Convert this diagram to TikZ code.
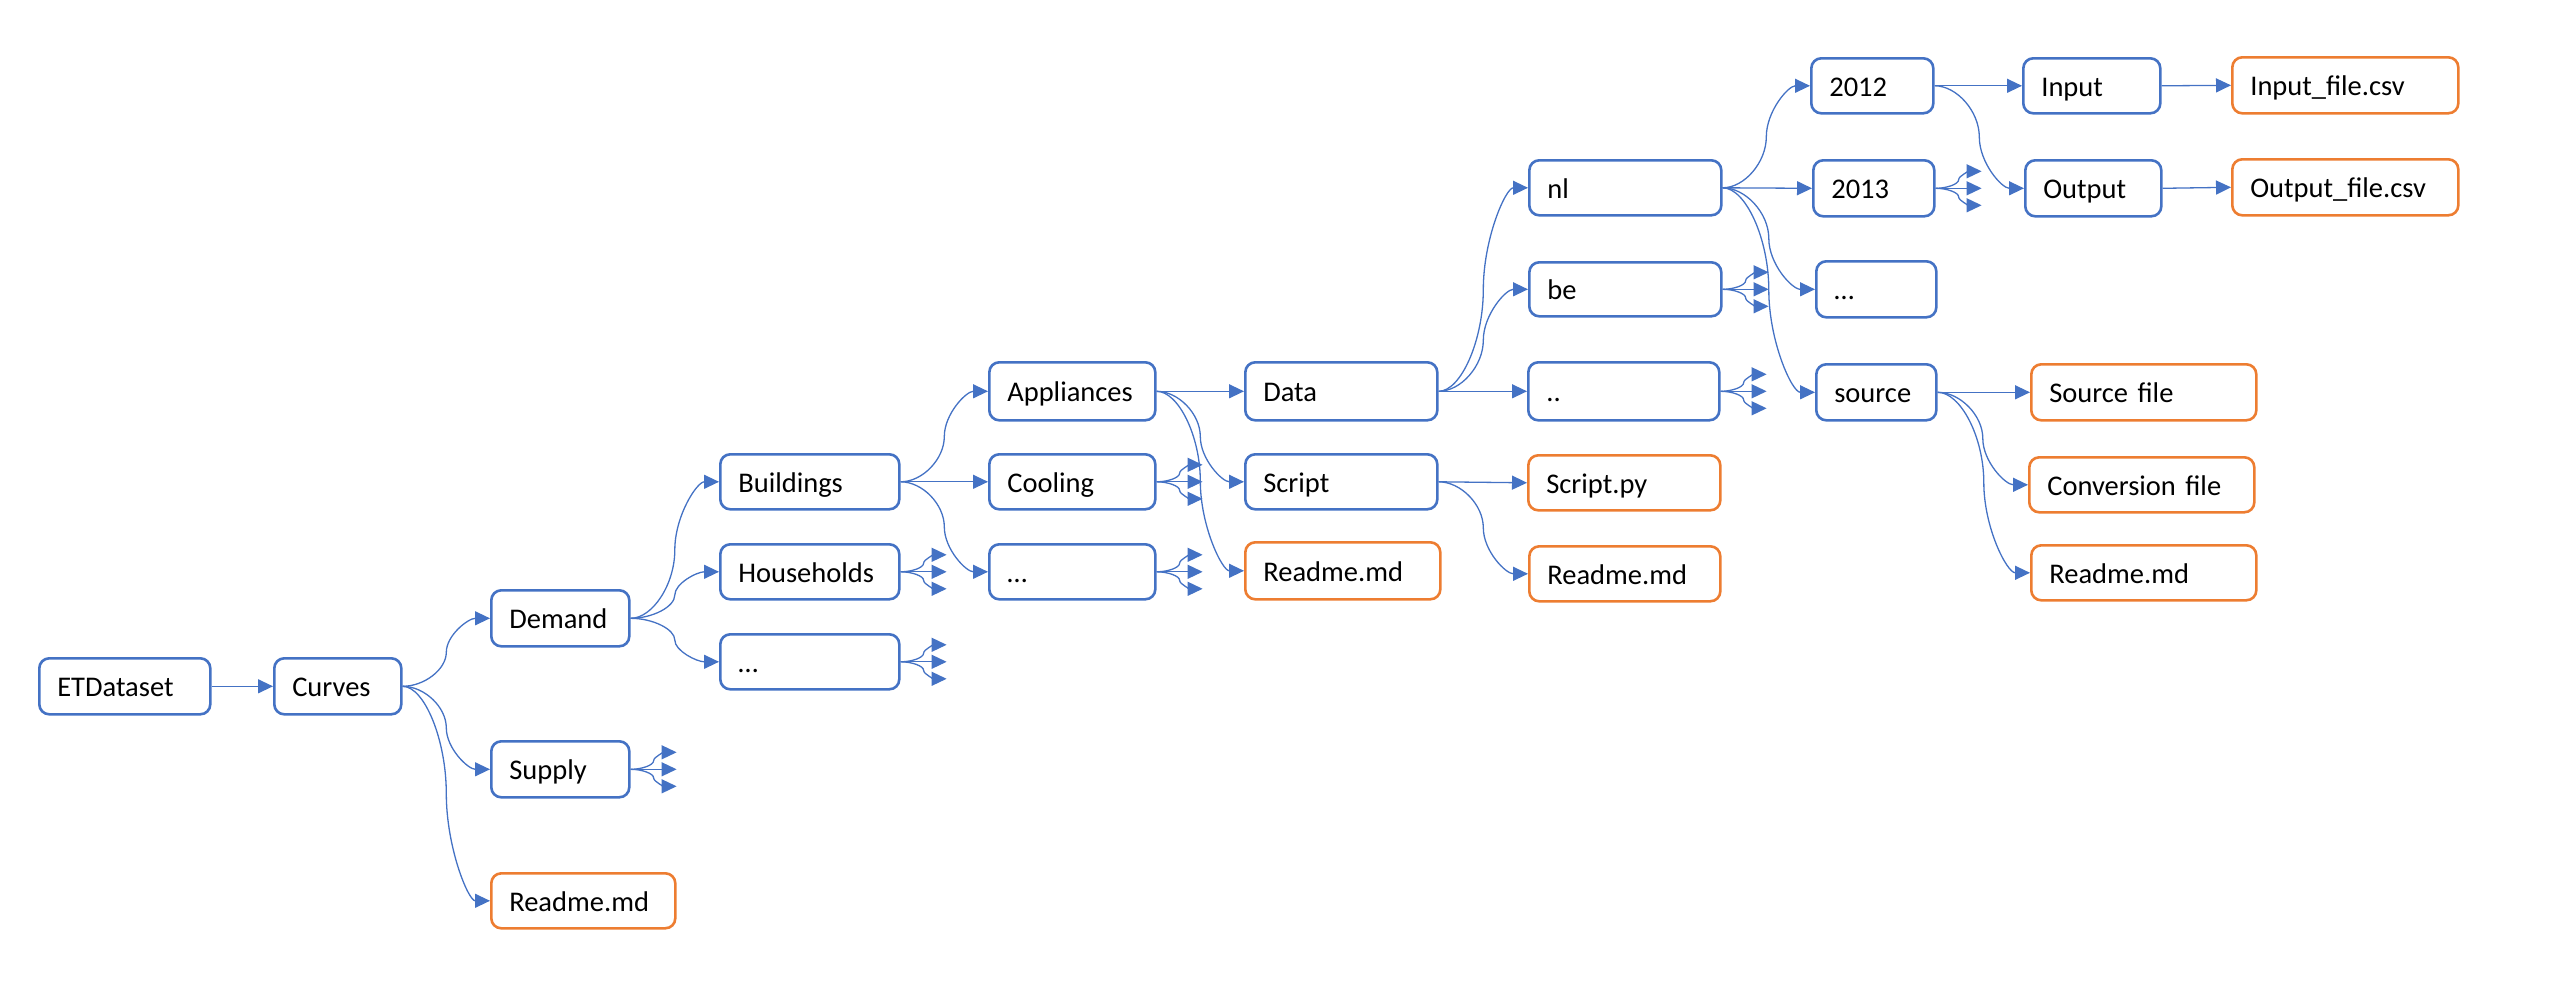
\documentclass[tikz,border=0pt]{standalone}
\usepackage{fontspec}
\setmainfont{Carlito}
\usetikzlibrary{arrows.meta,calc}
\definecolor{ublue}{HTML}{4472C4}
\definecolor{uorange}{HTML}{ED7D31}
\tikzset{
  boxbase/.style={rectangle, rounded corners=10pt, line width=2.6pt, anchor=north west,
    inner xsep=18pt, inner ysep=0pt, text height=21pt, text depth=0pt, align=left,
    font=\fontsize{28.5pt}{34pt}\selectfont},
  bluebox/.style={boxbase, draw=ublue},
  filebox/.style={boxbase, draw=uorange},
  conn/.style={draw=ublue, line width=1.3pt, -{Triangle[length=15pt,width=14pt]}},
  curv/.style={to path={let \p1=(\tikztostart), \p2=(\tikztotarget),
      \n1={(\x1+\x2)/2}, \n2={(\y1+\y2)/2}, \n3={\y1+(\y2-\y1)/4}, \n4={\y1+3*(\y2-\y1)/4},
      \n5={(\x1+\n1)/2}, \n6={(\n1+\x2)/2} in
      .. controls (\n5,\y1) and (\n1,\n3) .. (\n1,\n2)
      .. controls (\n1,\n4) and (\n6,\y2) .. (\tikztotarget)}}
}
\newcommand\bx[7][bluebox]{%
  \pgfmathsetmacro\bw{#5-#3-36}%
  \pgfmathsetmacro\bh{#6-#4}%
  \node[#1, text width=\bw pt, minimum height=\bh pt] (#2) at (#3,-#4) {#7};}
\newcommand\fanout[1]{%
  \path (#1.east) ++(46,17) coordinate (#1-fa);
  \path (#1.east) ++(46,0) coordinate (#1-fb);
  \path (#1.east) ++(46,-17) coordinate (#1-fc);
  \draw[conn] (#1.east) to[curv] (#1-fa);
  \draw[conn] (#1.east) -- (#1-fb);
  \draw[conn] (#1.east) to[curv] (#1-fc);}
\begin{document}
\begin{tikzpicture}[x=1pt,y=1pt]
\useasboundingbox (0,0) rectangle (2550,-985);
% nodes
\bx{etd}{38}{657}{209}{713}{ETDataset}
\bx{curves}{273}{657}{400}{713}{Curves}
\bx{demand}{490}{589}{628}{645}{Demand}
\bx{supply}{490}{740}{628}{796}{Supply}
\bx[filebox]{readmeA}{490}{872}{674}{927}{Readme.md}
\bx{buildings}{719}{453}{898}{508}{Buildings}
\bx{households}{719}{543}{898}{598}{Households}
\bx{dotsA}{719}{633}{898}{688}{…}
\bx{appliances}{988}{361}{1154}{419}{Appliances}
\bx{cooling}{988}{453}{1154}{508}{Cooling}
\bx{dotsB}{988}{543}{1154}{598}{…}
\bx{data}{1244}{361}{1436}{419}{Data}
\bx{script}{1244}{453}{1436}{508}{Script}
\bx[filebox]{readmeB}{1244}{541}{1439}{598}{Readme.md}
\bx{nl}{1528}{159}{1720}{214}{nl}
\bx{be}{1528}{261}{1720}{315}{be}
\bx{dotdot}{1527}{361}{1718}{419}{..}
\bx[filebox]{scriptpy}{1527}{454}{1719}{509}{Script.py}
\bx[filebox]{readmeC}{1528}{545}{1719}{600}{Readme.md}
\bx{ytwelve}{1810}{57}{1932}{112}{2012}
\bx{ythirteen}{1812}{159}{1933}{215}{2013}
\bx{dotsC}{1815}{260}{1935}{316}{…}
\bx{source}{1815}{363}{1935}{419}{source}
\bx{input}{2022}{57}{2159}{112}{Input}
\bx{output}{2024}{159}{2160}{215}{Output}
\bx[filebox]{inputfile}{2231}{56}{2457}{112}{Input\_file.csv}
\bx[filebox]{outputfile}{2231}{158}{2457}{214}{Output\_file.csv}
\bx[filebox]{sourcefile}{2030}{363}{2255}{419}{Source file}
\bx[filebox]{conversion}{2028}{456}{2253}{511}{Conversion file}
\bx[filebox]{readmeD}{2030}{544}{2255}{599}{Readme.md}
% connectors
\draw[conn] (etd.east) -- (curves.west);
\draw[conn] (curves.east) to[curv] (demand.west);
\draw[conn] (curves.east) to[curv] (supply.west);
\draw[conn] (curves.east) to[curv] (readmeA.west);
\fanout{supply}
\draw[conn] (demand.east) to[curv] (buildings.west);
\draw[conn] (demand.east) to[curv] (households.west);
\draw[conn] (demand.east) to[curv] (dotsA.west);
\fanout{households}
\fanout{dotsA}
\draw[conn] (buildings.east) to[curv] (appliances.west);
\draw[conn] (buildings.east) -- (cooling.west);
\draw[conn] (buildings.east) to[curv] (dotsB.west);
\fanout{cooling}
\fanout{dotsB}
\draw[conn] (appliances.east) -- (data.west);
\draw[conn] (appliances.east) to[curv] (script.west);
\draw[conn] (appliances.east) to[curv] (readmeB.west);
\draw[conn] (data.east) to[curv] (nl.west);
\draw[conn] (data.east) to[curv] (be.west);
\draw[conn] (data.east) -- (dotdot.west);
\fanout{be}
\fanout{dotdot}
\draw[conn] (script.east) -- (scriptpy.west);
\draw[conn] (script.east) to[curv] (readmeC.west);
\draw[conn] (nl.east) to[curv] (ytwelve.west);
\draw[conn] (nl.east) -- (ythirteen.west);
\draw[conn] (nl.east) to[curv] (dotsC.west);
\draw[conn] (nl.east) to[curv] (source.west);
\fanout{ythirteen}
\draw[conn] (ytwelve.east) -- (input.west);
\draw[conn] (ytwelve.east) to[curv] (output.west);
\draw[conn] (input.east) -- (inputfile.west);
\draw[conn] (output.east) -- (outputfile.west);
\draw[conn] (source.east) -- (sourcefile.west);
\draw[conn] (source.east) to[curv] (conversion.west);
\draw[conn] (source.east) to[curv] (readmeD.west);
\end{tikzpicture}
\end{document}
